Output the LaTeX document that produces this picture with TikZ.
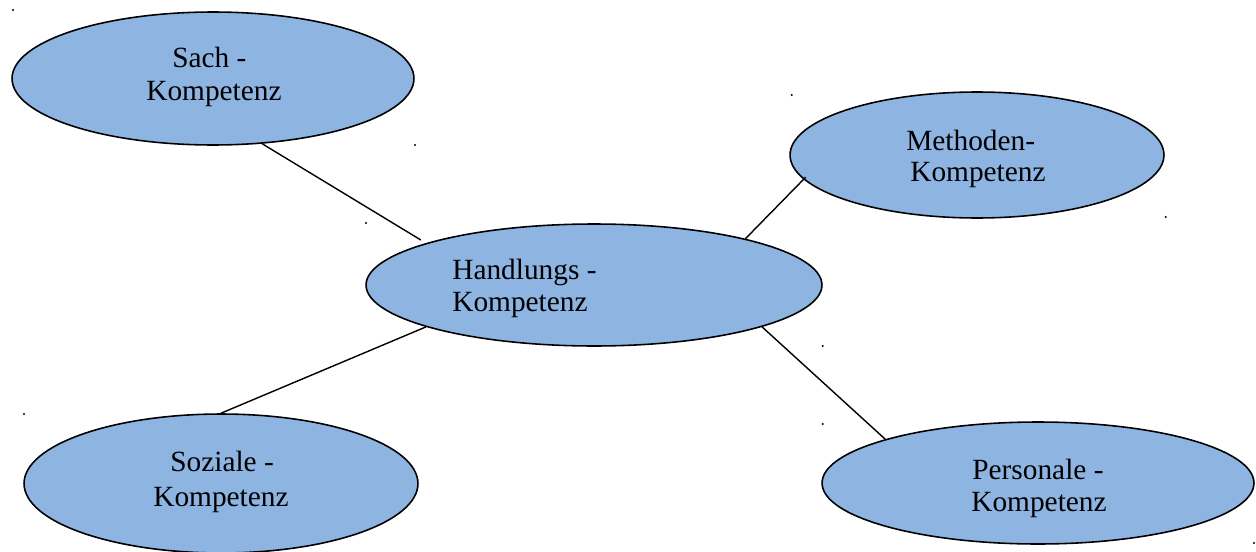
\documentclass[tikz,border=0pt]{standalone}
\usepackage{fontspec}
\setmainfont{Liberation Serif}
\usetikzlibrary{shapes.geometric}
\definecolor{kompblau}{RGB}{142,180,226}
\tikzset{
  komp/.style={ellipse, draw, fill=kompblau, line width=0.9pt, inner sep=0pt},
  txt/.style={anchor=base west, inner sep=0pt, font=\fontsize{16.7}{18.8}\selectfont},
  verb/.style={line width=0.8pt}
}

\begin{document}
\begin{tikzpicture}[x=0.02cm, y=-0.02cm]
      \useasboundingbox (0,0) rectangle (1256,551);

      \node[komp, minimum width=8.04cm, minimum height=2.66cm] (sach) at (213,78.5) {};
      \node[komp, minimum width=7.48cm, minimum height=2.52cm] (meth) at (977,155) {};
      \node[komp, minimum width=9.12cm, minimum height=2.44cm] (hand) at (594,285) {};
      \node[komp, minimum width=7.88cm, minimum height=2.78cm] (soz) at (221,483.5) {};
      \node[komp, minimum width=8.64cm, minimum height=2.44cm] (pers) at (1038,483) {};

      \node[txt] (sach1) at (172,67) {Sach -};
      \node[txt] (sach2) at (146,100) {Kompetenz};
      \node[txt] (meth1) at (906,150) {Methoden-};
      \node[txt] (meth2) at (910,181) {Kompetenz};
      \node[txt] (hand1) at (452,279) {Handlungs -};
      \node[txt] (hand2) at (452,311.5) {Kompetenz};
      \node[txt] (soz1) at (170,471.5) {Soziale -};
      \node[txt] (soz2) at (153,506) {Kompetenz};
      \node[txt] (pers1) at (972,479) {Personale -};
      \node[txt] (pers2) at (971,511) {Kompetenz};

      \draw[verb, shorten >=1.2mm] (sach.-53) -- (hand.166);
      \draw[verb, shorten <=-0.6mm] (meth.188.4) -- (hand.17.3);
      \draw[verb] (soz.north) -- (hand.194.9);
      \draw[verb] (hand.-14.8) -- (pers.164.3);

      % leere Absaetze
      \foreach \p in {(13,10), (415,145), (366,223), (822.7,346), (791.7,95),
                      (1165.7,217), (24,414), (822.7,424), (1254,543)}
        \fill \p circle (1.1);
    \end{tikzpicture}
\end{document}
